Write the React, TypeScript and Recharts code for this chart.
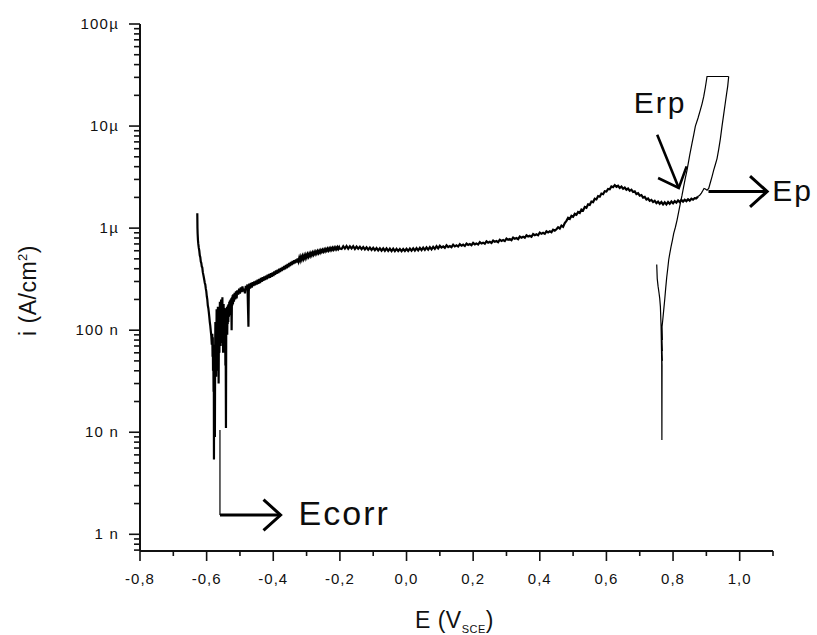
import React from 'react';
import { LineChart, Line, XAxis, YAxis, ReferenceLine, ReferenceDot } from 'recharts';

const FONT = '"Liberation Sans", Arial, Helvetica, sans-serif';

// Forward scan, cathodic region around Ecorr: [E (V vs SCE), i (nA/cm²)]
const cathodicBranch: [number, number][] = [
  [-0.628, 1400], [-0.6275, 1000], [-0.627, 880], [-0.626, 760], [-0.625, 700], [-0.6235, 640],
  [-0.622, 600], [-0.6205, 540], [-0.619, 520], [-0.6175, 470], [-0.616, 455], [-0.6145, 420],
  [-0.613, 410], [-0.6115, 370], [-0.61, 350], [-0.6085, 330], [-0.607, 310], [-0.6055, 290],
  [-0.604, 280], [-0.6025, 255], [-0.601, 240], [-0.5995, 215], [-0.598, 200], [-0.5965, 175],
  [-0.595, 165], [-0.5935, 150], [-0.592, 135], [-0.5905, 120], [-0.589, 110], [-0.5875, 98],
  [-0.586, 88], [-0.5845, 72], [-0.583, 92], [-0.5822, 55], [-0.5815, 85], [-0.5808, 40],
  [-0.58, 70], [-0.5792, 25], [-0.5785, 62], [-0.578, 5.4], [-0.5775, 48], [-0.5768, 18],
  [-0.576, 72], [-0.5752, 9], [-0.5745, 60], [-0.5737, 120], [-0.573, 45], [-0.5722, 95],
  [-0.5715, 35], [-0.5707, 75], [-0.57, 160], [-0.5692, 55], [-0.5685, 105], [-0.5677, 40],
  [-0.567, 88], [-0.5662, 170], [-0.5655, 65], [-0.5647, 125], [-0.564, 30], [-0.5632, 92],
  [-0.5625, 150], [-0.5617, 60], [-0.561, 115], [-0.5602, 190], [-0.5595, 80], [-0.5587, 140],
  [-0.558, 70], [-0.5572, 120], [-0.5565, 200], [-0.5557, 85], [-0.555, 150], [-0.5542, 75],
  [-0.5535, 130], [-0.5527, 210], [-0.552, 90], [-0.5512, 160], [-0.5505, 60], [-0.5497, 125],
  [-0.549, 180], [-0.5482, 80], [-0.5475, 140], [-0.5467, 95], [-0.546, 165], [-0.5452, 70],
  [-0.5445, 130], [-0.5437, 45], [-0.543, 110], [-0.542, 11], [-0.5412, 95], [-0.5405, 160],
  [-0.5397, 105], [-0.539, 170], [-0.5382, 90], [-0.5375, 150], [-0.5367, 115], [-0.536, 175],
  [-0.535, 120], [-0.534, 180], [-0.533, 135], [-0.532, 190], [-0.531, 140], [-0.53, 195],
  [-0.529, 150], [-0.528, 200], [-0.527, 160], [-0.526, 205], [-0.525, 100], [-0.524, 210],
  [-0.523, 175], [-0.522, 220], [-0.521, 180], [-0.52, 225], [-0.518, 190], [-0.516, 232],
  [-0.514, 200], [-0.512, 240], [-0.51, 205], [-0.508, 245],
];

// Forward scan, anodic rise towards the passive plateau
const transitionBranch: [number, number][] = [
  [-0.505, 223], [-0.5025, 255], [-0.5, 228], [-0.4975, 262], [-0.495, 236], [-0.4925, 268],
  [-0.49, 240], [-0.4875, 255], [-0.485, 230], [-0.4825, 272], [-0.48, 248], [-0.4775, 280],
  [-0.4755, 150], [-0.4745, 108], [-0.4735, 240], [-0.472, 286], [-0.4695, 255], [-0.467, 290],
  [-0.4645, 262], [-0.462, 296], [-0.4595, 270], [-0.457, 300], [-0.4545, 276], [-0.452, 306],
  [-0.4495, 280], [-0.447, 312], [-0.4445, 284], [-0.442, 318], [-0.4395, 290], [-0.437, 325],
  [-0.4345, 298], [-0.432, 330], [-0.4295, 304], [-0.427, 336], [-0.4245, 310], [-0.422, 342],
  [-0.4195, 316], [-0.417, 350], [-0.4145, 322], [-0.412, 356], [-0.4095, 326], [-0.407, 362],
  [-0.4045, 334], [-0.402, 368], [-0.3995, 340], [-0.397, 376], [-0.3945, 348], [-0.392, 384],
  [-0.3895, 356], [-0.387, 392], [-0.3845, 362], [-0.382, 400], [-0.3795, 372], [-0.377, 408],
  [-0.3745, 380], [-0.372, 416], [-0.3695, 388], [-0.367, 426], [-0.3645, 396], [-0.362, 436],
  [-0.3595, 404], [-0.357, 446], [-0.3545, 414], [-0.352, 456], [-0.3495, 424], [-0.347, 466],
  [-0.3445, 434], [-0.342, 476], [-0.3395, 444], [-0.337, 486], [-0.3345, 452], [-0.332, 494],
  [-0.3295, 462], [-0.327, 504], [-0.3245, 472], [-0.322, 512], [-0.3195, 482], [-0.317, 522],
  [-0.3145, 492], [-0.312, 530], [-0.3095, 500], [-0.307, 538], [-0.3045, 508], [-0.302, 546],
  [-0.2995, 518], [-0.297, 554], [-0.2945, 526], [-0.292, 560], [-0.2895, 534], [-0.287, 568],
  [-0.2845, 542], [-0.282, 575], [-0.2795, 550], [-0.277, 582], [-0.2745, 557], [-0.272, 588],
  [-0.2695, 564], [-0.267, 594], [-0.2645, 570], [-0.262, 600], [-0.2595, 576], [-0.257, 606],
  [-0.2545, 584], [-0.252, 612], [-0.2495, 590], [-0.247, 618], [-0.2445, 594], [-0.242, 622],
  [-0.2395, 600], [-0.237, 628], [-0.2345, 604], [-0.232, 632], [-0.2295, 608], [-0.227, 636],
  [-0.2245, 612], [-0.222, 640], [-0.2195, 616], [-0.217, 644], [-0.2145, 620], [-0.212, 646],
  [-0.2095, 622], [-0.207, 650], [-0.2045, 626], [-0.202, 652], [-0.2, 630],
];

// Forward scan, passive plateau, pre-passive peak and region before Ep
const passiveBranch: [number, number][] = [
  [-0.195, 625], [-0.19, 665], [-0.185, 630], [-0.18, 668], [-0.175, 628], [-0.17, 662],
  [-0.165, 632], [-0.16, 665], [-0.155, 625], [-0.15, 660], [-0.145, 628], [-0.14, 655],
  [-0.135, 622], [-0.13, 652], [-0.125, 618], [-0.12, 648], [-0.115, 615], [-0.11, 645],
  [-0.105, 612], [-0.1, 642], [-0.095, 608], [-0.09, 638], [-0.085, 605], [-0.08, 635],
  [-0.075, 602], [-0.07, 632], [-0.065, 600], [-0.06, 632], [-0.055, 598], [-0.05, 630],
  [-0.045, 596], [-0.04, 628], [-0.035, 595], [-0.03, 626], [-0.025, 596], [-0.02, 625],
  [-0.015, 594], [-0.01, 624], [-0.005, 597], [0.0, 628], [0.005, 598], [0.01, 630],
  [0.015, 600], [0.02, 633], [0.025, 603], [0.03, 636], [0.035, 606], [0.04, 640],
  [0.045, 610], [0.05, 644], [0.055, 612], [0.06, 648], [0.065, 616], [0.07, 652],
  [0.075, 620], [0.08, 656], [0.085, 626], [0.09, 664], [0.095, 632], [0.1, 670],
  [0.105, 645], [0.11, 662], [0.115, 640], [0.12, 678], [0.125, 652], [0.13, 668],
  [0.135, 650], [0.14, 688], [0.145, 662], [0.15, 678], [0.155, 660], [0.16, 696],
  [0.165, 672], [0.17, 688], [0.175, 668], [0.18, 706], [0.185, 684], [0.19, 698],
  [0.195, 680], [0.2, 716], [0.205, 694], [0.21, 708], [0.215, 690], [0.22, 728],
  [0.225, 706], [0.23, 720], [0.235, 704], [0.24, 742], [0.245, 720], [0.25, 735],
  [0.255, 716], [0.26, 756], [0.265, 734], [0.27, 748], [0.275, 728], [0.28, 770],
  [0.285, 750], [0.29, 764], [0.295, 746], [0.3, 790], [0.305, 768], [0.31, 782],
  [0.315, 762], [0.32, 808], [0.325, 786], [0.33, 800], [0.335, 780], [0.34, 826],
  [0.345, 806], [0.35, 824], [0.355, 804], [0.36, 850], [0.365, 828], [0.37, 842],
  [0.375, 822], [0.38, 874], [0.385, 852], [0.39, 870], [0.395, 850], [0.4, 905],
  [0.405, 880], [0.41, 898], [0.415, 878], [0.42, 930], [0.425, 908], [0.43, 930],
  [0.435, 910], [0.44, 965], [0.445, 945], [0.45, 975], [0.455, 1020],
  [0.46, 990], [0.465, 1060], [0.47, 1030], [0.475, 1120], [0.48, 1180], [0.485, 1260],
  [0.49, 1230], [0.495, 1320], [0.5, 1290], [0.505, 1380], [0.51, 1350], [0.515, 1440],
  [0.52, 1410], [0.525, 1520], [0.53, 1490], [0.535, 1610], [0.54, 1580], [0.545, 1710],
  [0.55, 1690], [0.555, 1820], [0.56, 1800], [0.565, 1940], [0.57, 1910], [0.575, 2060],
  [0.58, 2030], [0.585, 2180], [0.59, 2150], [0.595, 2300], [0.6, 2280], [0.605, 2420],
  [0.61, 2400], [0.615, 2560], [0.62, 2520], [0.625, 2640], [0.63, 2540], [0.635, 2600],
  [0.64, 2480], [0.645, 2550], [0.65, 2430], [0.655, 2500], [0.66, 2380], [0.665, 2440],
  [0.67, 2320], [0.675, 2380], [0.68, 2260], [0.685, 2290], [0.69, 2160], [0.695, 2200],
  [0.7, 2080], [0.705, 2110], [0.71, 1990], [0.715, 2020], [0.72, 1910], [0.725, 1950],
  [0.73, 1850], [0.735, 1890], [0.74, 1800], [0.745, 1850], [0.75, 1760], [0.755, 1820],
  [0.76, 1730], [0.765, 1800], [0.77, 1710], [0.775, 1790], [0.78, 1710], [0.785, 1800],
  [0.79, 1730], [0.795, 1820], [0.8, 1750], [0.805, 1840], [0.81, 1780], [0.815, 1870],
  [0.82, 1800], [0.825, 1890], [0.83, 1820], [0.835, 1900], [0.84, 1840], [0.845, 1920],
  [0.85, 1860], [0.855, 1940], [0.86, 1900], [0.865, 1970], [0.87, 1960], [0.875, 2040],
];

// Forward scan, pitting (after Ep) up to the current limit
const pittingBranch: [number, number][] = [
  [0.875, 2040], [0.88, 2100], [0.885, 2200], [0.89, 2350], [0.893, 2450], [0.897, 2420],
  [0.902, 2350], [0.907, 2450], [0.912, 2800], [0.917, 3200], [0.922, 3700], [0.927, 4200],
  [0.932, 4800], [0.937, 5900], [0.942, 7500], [0.947, 10000], [0.952, 13000], [0.957, 17000],
  [0.961, 21000], [0.964, 24500], [0.967, 30600],
];

// Reverse scan back to the repassivation and cathodic transition
const reverseBranch: [number, number][] = [
  [0.967, 30600], [0.902, 30600], [0.897, 24000], [0.892, 19400], [0.887, 16500], [0.882, 14400],
  [0.875, 12000], [0.867, 10000], [0.862, 8200], [0.857, 6800], [0.85, 5200], [0.842, 3700],
  [0.837, 3100], [0.832, 2570], [0.827, 2100], [0.822, 1760], [0.817, 1450], [0.812, 1200],
  [0.807, 1020], [0.802, 890], [0.798, 760], [0.794, 660], [0.79, 560], [0.787, 490],
  [0.784, 400], [0.781, 330], [0.778, 260], [0.775, 200], [0.772, 158], [0.769, 125],
  [0.767, 108], [0.768, 80], [0.766, 95], [0.768, 62], [0.766, 75], [0.768, 50],
  [0.766, 58], [0.767, 45], [0.7665, 8.4], [0.766, 48], [0.764, 110], [0.762, 170],
  [0.76, 205], [0.758, 230], [0.755, 270], [0.7525, 320], [0.751, 440],
];

const xDomain: [number, number] = [-0.8, 1.1];
const yDomain: [number, number] = [6.86e-10, 1e-4];

const xMajorTicks = [-0.8, -0.6, -0.4, -0.2, 0.0, 0.2, 0.4, 0.6, 0.8, 1.0];
const xTickLabels = ['-0,8', '-0,6', '-0,4', '-0,2', '0,0', '0,2', '0,4', '0,6', '0,8', '1,0'];
const xMinorTicks = [-0.7, -0.5, -0.3, -0.1, 0.1, 0.3, 0.5, 0.7, 0.9, 1.1];

const yMajorTicks = [1e-9, 1e-8, 1e-7, 1e-6, 1e-5, 1e-4];
const yTickLabels = ['1 n', '10 n', '100 n', '1µ', '10µ', '100µ'];
const yMinorMultipliers = [2, 3, 4, 5, 6, 7, 8, 9];
const yMinorDecades = [1e-10, 1e-9, 1e-8, 1e-7, 1e-6, 1e-5];

// Annotation anchors (data units)
const ecorrPoint = { E: -0.56, iTop: 10.5e-9, iArrow: 1.545e-9, tipE: -0.378 };
const ecorrLabel = { E: -0.324, i: 1.233e-9, text: 'Ecorr' };
const erpArrow = { E1: 0.7524, i1: 8.22e-6, E2: 0.8172, i2: 2.47e-6 };
const erpLabel = { E: 0.6822, i: 1.341e-5, text: 'Erp' };
const epArrow = { E1: 0.9063, E2: 1.0824, i: 2.285e-6 };
const epLabel = { E: 1.0974, i: 1.824e-6, text: 'Ep' };

const toRows = (pts: [number, number][]) => pts.map(([E, nA]) => ({ E, i: nA * 1e-9 }));
const forwardThick = toRows([...cathodicBranch, ...transitionBranch, ...passiveBranch]);
const forwardThin = toRows(pittingBranch);
const reverseRows = toRows(reverseBranch);

const xTicks = [...xMajorTicks, ...xMinorTicks].sort((a, b) => a - b);
const yTicks = [
  ...yMajorTicks,
  ...yMinorDecades.flatMap((d) => yMinorMultipliers.map((m) => m * d)),
]
  .filter((v) => v >= yDomain[0] && v <= yDomain[1])
  .sort((a, b) => a - b);

const renderXTick = (props: any) => {
  const { x, y, payload } = props;
  const v = payload.value;
  const idx = xMajorTicks.findIndex((t) => Math.abs(t - v) < 1e-6);
  const major = idx >= 0;
  return (
    <g>
      <line x1={x} y1={y} x2={x} y2={y + (major ? 10 : 5)} stroke="#111" strokeWidth={1.6} />
      {major && (
        <text x={x} y={y + 33} textAnchor="middle" fontFamily={FONT} fontSize={15} letterSpacing={1} fill="#111">
          {xTickLabels[idx]}
        </text>
      )}
    </g>
  );
};

const renderYTick = (props: any) => {
  const { x, y, payload } = props;
  const v = payload.value;
  const idx = yMajorTicks.findIndex((t) => Math.abs(v / t - 1) < 1e-6);
  const major = idx >= 0;
  return (
    <g>
      <line x1={x - (major ? 11 : 6)} y1={y} x2={x} y2={y} stroke="#111" strokeWidth={1.6} />
      {major && (
        <text x={x - 21} y={y + 5} textAnchor="end" fontFamily={FONT} fontSize={15} letterSpacing={1.2} fill="#111">
          {yTickLabels[idx]}
        </text>
      )}
    </g>
  );
};

const renderXTitle = (props: any) => {
  const vb = props.viewBox || { x: 140, y: 551, width: 633, height: 84 };
  const cx = vb.x + vb.width / 2 - 2;
  const by = vb.y + 77;
  return (
    <text x={cx} y={by} textAnchor="middle" fontFamily={FONT} fontSize={23} letterSpacing={0.5} fill="#111">
      <tspan>E (V</tspan>
      <tspan fontSize={11} dy={5}>SCE</tspan>
      <tspan dy={-5}>)</tspan>
    </text>
  );
};

const renderYTitle = (props: any) => {
  const vb = props.viewBox || { x: 0, y: 24, width: 140, height: 527 };
  const cy = vb.y + vb.height / 2 + 3;
  const bx = vb.x + 36;
  return (
    <text
      x={bx}
      y={cy}
      textAnchor="middle"
      transform={`rotate(-90, ${bx}, ${cy})`}
      fontFamily={FONT}
      fontSize={23}
      letterSpacing={0.5}
      fill="#111"
    >
      <tspan>i (A/cm</tspan>
      <tspan fontSize={13} dy={-9}>2</tspan>
      <tspan dy={9}>)</tspan>
    </text>
  );
};

const arrowShape = (width: number) => (props: any) => {
  const { x1, y1, x2, y2 } = props;
  const dx = x1 - x2;
  const dy = y1 - y2;
  const len = Math.hypot(dx, dy) || 1;
  const ux = dx / len;
  const uy = dy / len;
  const L = 23;
  const a = (42 * Math.PI) / 180;
  const c = Math.cos(a);
  const s = Math.sin(a);
  const ax = x2 + L * (ux * c - uy * s);
  const ay = y2 + L * (ux * s + uy * c);
  const bx = x2 + L * (ux * c + uy * s);
  const by = y2 + L * (-ux * s + uy * c);
  return (
    <g>
      <line x1={x1} y1={y1} x2={x2} y2={y2} stroke="#000" strokeWidth={width} />
      <polyline points={`${ax},${ay} ${x2},${y2} ${bx},${by}`} fill="none" stroke="#000" strokeWidth={width} strokeLinejoin="miter" />
    </g>
  );
};

const plainLine = (width: number) => (props: any) => {
  const { x1, y1, x2, y2 } = props;
  return <line x1={x1} y1={y1} x2={x2} y2={y2} stroke="#000" strokeWidth={width} />;
};

const textShape = (text: string, size: number, spacing: number) => (props: any) => (
  <text x={props.cx} y={props.cy} fontFamily={FONT} fontSize={size} letterSpacing={spacing} fill="#0d0d0d">
    {text}
  </text>
);

export default function App() {
  return (
    <div style={{ position: 'absolute', left: 0, top: 0, width: 817, height: 635, background: '#fff' }}>
      <LineChart width={817} height={635} margin={{ top: 24, right: 44, bottom: 0, left: 0 }}>
        <XAxis
          dataKey="E"
          type="number"
          domain={xDomain}
          allowDataOverflow
          ticks={xTicks}
          interval={0}
          tick={renderXTick}
          tickLine={false}
          tickSize={0}
          tickMargin={0}
          height={84}
          axisLine={{ stroke: '#111', strokeWidth: 2 }}
          label={{ content: renderXTitle }}
        />
        <YAxis
          type="number"
          scale="log"
          domain={yDomain}
          allowDataOverflow
          ticks={yTicks}
          interval={0}
          tick={renderYTick}
          tickLine={false}
          tickSize={0}
          tickMargin={0}
          width={140}
          axisLine={{ stroke: '#111', strokeWidth: 2 }}
          label={{ content: renderYTitle }}
        />
        <Line data={forwardThick} dataKey="i" type="linear" stroke="#000" strokeWidth={2.2} dot={false} activeDot={false} isAnimationActive={false} />
        <Line data={forwardThin} dataKey="i" type="linear" stroke="#000" strokeWidth={1.2} dot={false} activeDot={false} isAnimationActive={false} />
        <Line data={reverseRows} dataKey="i" type="linear" stroke="#000" strokeWidth={1.2} dot={false} activeDot={false} isAnimationActive={false} />

        <ReferenceLine
          segment={[{ x: ecorrPoint.E, y: ecorrPoint.iTop }, { x: ecorrPoint.E, y: ecorrPoint.iArrow }]}
          ifOverflow="visible"
          shape={plainLine(1.2)}
        />
        <ReferenceLine
          segment={[{ x: ecorrPoint.E, y: ecorrPoint.iArrow }, { x: ecorrPoint.tipE, y: ecorrPoint.iArrow }]}
          ifOverflow="visible"
          shape={arrowShape(3)}
        />
        <ReferenceLine
          segment={[{ x: erpArrow.E1, y: erpArrow.i1 }, { x: erpArrow.E2, y: erpArrow.i2 }]}
          ifOverflow="visible"
          shape={arrowShape(2.6)}
        />
        <ReferenceLine
          segment={[{ x: epArrow.E1, y: epArrow.i }, { x: epArrow.E2, y: epArrow.i }]}
          ifOverflow="visible"
          shape={arrowShape(3)}
        />
        <ReferenceDot x={ecorrLabel.E} y={ecorrLabel.i} r={0} ifOverflow="visible" shape={textShape(ecorrLabel.text, 34, 2)} />
        <ReferenceDot x={erpLabel.E} y={erpLabel.i} r={0} ifOverflow="visible" shape={textShape(erpLabel.text, 30, 2)} />
        <ReferenceDot x={epLabel.E} y={epLabel.i} r={0} ifOverflow="visible" shape={textShape(epLabel.text, 30, 2)} />
      </LineChart>
    </div>
  );
}
